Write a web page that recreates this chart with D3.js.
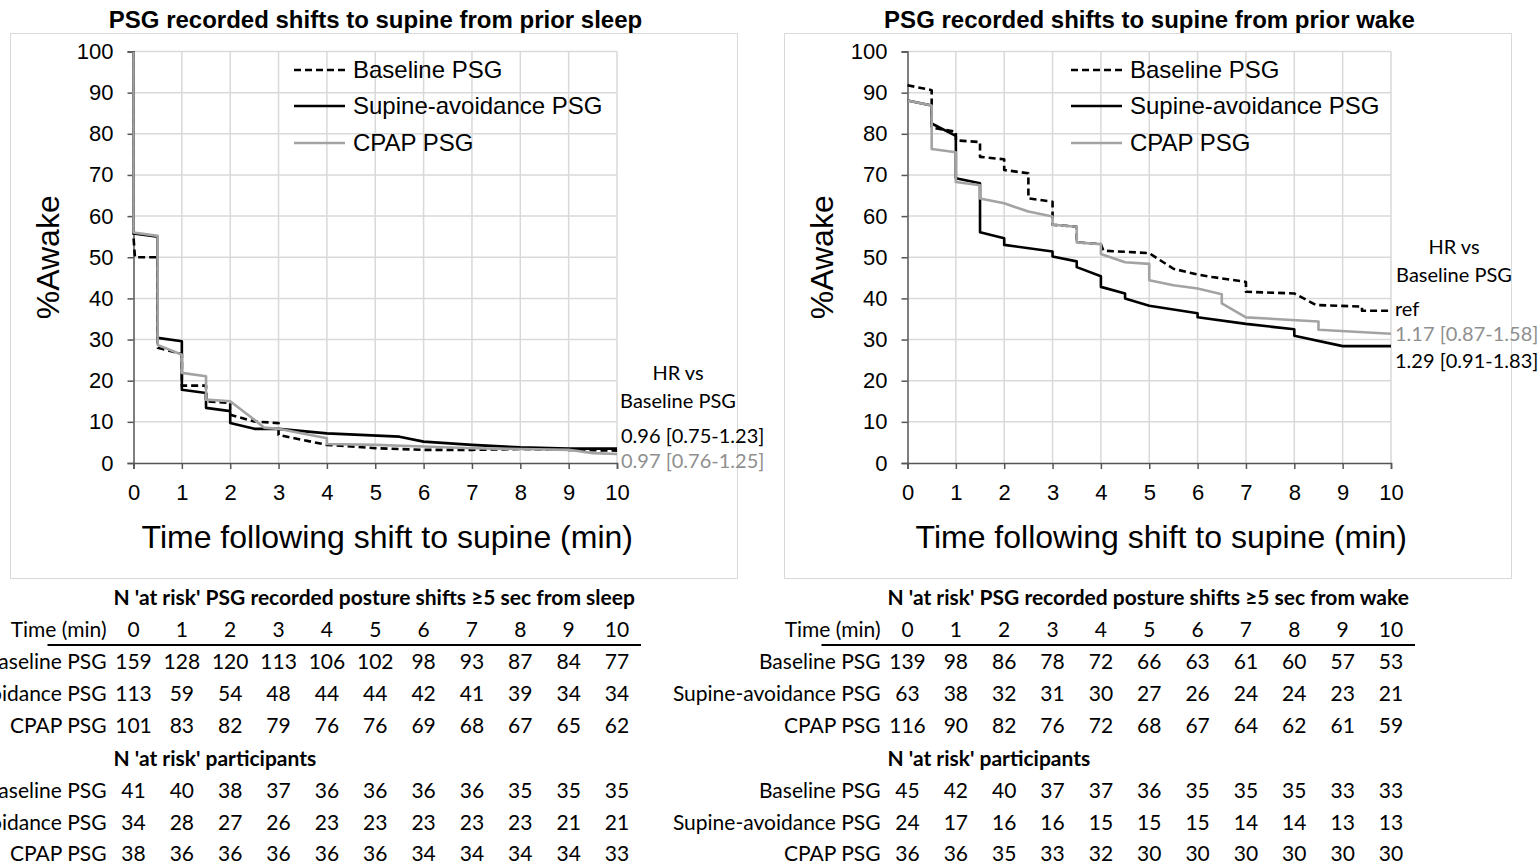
<!DOCTYPE html>
<html>
<head>
<meta charset="utf-8">
<script src="https://cdn.jsdelivr.net/npm/d3@7"></script>
<style>
  body { margin: 0; background: #fff; }
  svg { display: block; }
</style>
</head>
<body>
<div id="chart"></div>
<script>
// ---------- data ----------
const timeTicks = [0, 1, 2, 3, 4, 5, 6, 7, 8, 9, 10];
const yTicks = [0, 10, 20, 30, 40, 50, 60, 70, 80, 90, 100];
const seriesNames = ["Baseline PSG", "Supine-avoidance PSG", "CPAP PSG"];

// % awake after shift to supine from prior sleep ([min, %])
const sleepBaseline = [[0,100],[0,55],[0.03,50],[0.5,50],[0.5,28],[1,26.5],[1,18.8],[1.5,18.8],[1.5,15],[2,14.6],[2,11.7],[2.5,10.1],[3,9.7],[3,6.8],[4,4.4],[5,3.6],[6,3.2],[7,3.2],[8,3.4],[9,3.2],[10,3.0]];
const sleepSupine = [[0,100],[0,55.8],[0.5,55],[0.5,30.4],[1,29.6],[1,17.8],[1.5,17],[1.5,13.4],[2,12.6],[2,9.7],[2.5,8.3],[3,8.3],[4,7.2],[5.5,6.4],[6,5.2],[7,4.4],[8,3.8],[9,3.5],[10,3.5]];
const sleepCpap = [[0,100],[0,56],[0.5,55.2],[0.5,28.7],[1,26.3],[1,21.9],[1.5,21.1],[1.5,15.4],[2,15],[2.5,10.5],[2.7,8.6],[3,8.3],[4,6.0],[4,4.6],[5,4.4],[6,4.0],[7,3.6],[8,3.4],[9,3.2],[9.5,2.4],[10,2.2]];

// % awake after shift to supine from prior wake ([min, %])
const wakeBaseline = [[0,91.8],[0.5,90.6],[0.5,81.5],[1,80.5],[1,78.4],[1.5,78],[1.5,74.4],[2,73.8],[2,71.2],[2.5,70.4],[2.5,64.3],[3,63.5],[3,57.9],[3.5,57.4],[3.5,53.6],[4,53.2],[4.05,51.6],[5,51],[5.5,47.2],[6,45.8],[6.3,45.2],[7,44],[7,41.6],[8,41.2],[8.45,38.4],[9.4,38],[9.4,37],[10,37]];
const wakeSupine = [[0,88.1],[0.5,86.9],[0.5,82.5],[1,79.5],[1,69.2],[1.5,68],[1.5,56.1],[2,54.6],[2,53],[3,51.4],[3,50.2],[3.5,49],[3.5,47.6],[4,45.4],[4,42.8],[4.5,41.2],[4.5,40],[5,38.2],[6,36.4],[6,35.4],[7,33.8],[8,32.5],[8,30.9],[9,28.4],[10,28.4]];
const wakeCpap = [[0,88.1],[0.5,86.9],[0.5,76.3],[1,75.5],[1,68.3],[1.5,67.5],[1.5,64.3],[2,63.1],[2.5,61.1],[3,59.9],[3,57.9],[3.5,57.4],[3.5,53.6],[4,53.2],[4,50.8],[4.5,48.8],[5,48.4],[5,44.4],[5.5,43.2],[6,42.4],[6.5,41],[6.5,38.8],[7,35.4],[8.5,34.4],[8.5,32.4],[10,31.4]];

// hazard ratios vs baseline
const sleepHR = ["", "0.96 [0.75-1.23]", "0.97 [0.76-1.25]"];
const wakeHR = ["ref", "1.29 [0.91-1.83]", "1.17 [0.87-1.58]"];

// numbers at risk
const sleepShiftsBaseline = [159, 128, 120, 113, 106, 102, 98, 93, 87, 84, 77];
const sleepShiftsSupine = [113, 59, 54, 48, 44, 44, 42, 41, 39, 34, 34];
const sleepShiftsCpap = [101, 83, 82, 79, 76, 76, 69, 68, 67, 65, 62];
const sleepPartsBaseline = [41, 40, 38, 37, 36, 36, 36, 36, 35, 35, 35];
const sleepPartsSupine = [34, 28, 27, 26, 23, 23, 23, 23, 23, 21, 21];
const sleepPartsCpap = [38, 36, 36, 36, 36, 36, 34, 34, 34, 34, 33];
const wakeShiftsBaseline = [139, 98, 86, 78, 72, 66, 63, 61, 60, 57, 53];
const wakeShiftsSupine = [63, 38, 32, 31, 30, 27, 26, 24, 24, 23, 21];
const wakeShiftsCpap = [116, 90, 82, 76, 72, 68, 67, 64, 62, 61, 59];
const wakePartsBaseline = [45, 42, 40, 37, 37, 36, 35, 35, 35, 33, 33];
const wakePartsSupine = [24, 17, 16, 16, 15, 15, 15, 14, 14, 13, 13];
const wakePartsCpap = [36, 36, 35, 33, 32, 30, 30, 30, 30, 30, 30];

// ---------- drawing ----------
const W = 1540, H = 866;
const styles = [
  { stroke: "#000", dash: "7,4" },
  { stroke: "#000", dash: null },
  { stroke: "#a3a3a3", dash: null }
];
const hrColors = ["#000", "#000", "#8f8f8f"];
const tableFont = "Lato, 'Open Sans', sans-serif";

const svg = d3.select("#chart")
  .append("svg")
  .attr("width", W)
  .attr("height", H)
  .style("font-family", "'Liberation Sans', Arial, sans-serif");

function drawPanel({ left, legendDx, title, series, hr, hrLayout, shifts, parts, shiftsTitle }) {
  const top = 51.5, bottom = 463, right = left + 483.5;
  const x = d3.scaleLinear().domain([0, 10]).range([left, right]);
  const y = d3.scaleLinear().domain([0, 100]).range([bottom, top]);

  // frame around chart
  svg.append("rect")
    .attr("x", left - 123)
    .attr("y", 33.5)
    .attr("width", 727)
    .attr("height", 545)
    .attr("fill", "none")
    .attr("stroke", "#d9d9d9");

  svg.append("text")
    .attr("x", left + 242)
    .attr("y", 20)
    .attr("dy", "0.35em")
    .attr("text-anchor", "middle")
    .style("font-size", "24px")
    .style("font-weight", "bold")
    .text(title);

  // gridlines
  svg.append("g")
    .selectAll("line")
    .data(timeTicks.slice(1))
    .join("line")
    .attr("x1", d => x(d)).attr("x2", d => x(d))
    .attr("y1", top).attr("y2", bottom)
    .attr("stroke", "#d9d9d9").attr("stroke-width", 1.5);
  svg.append("g")
    .selectAll("line")
    .data(yTicks.slice(1))
    .join("line")
    .attr("x1", left).attr("x2", right)
    .attr("y1", d => y(d)).attr("y2", d => y(d))
    .attr("stroke", "#d9d9d9").attr("stroke-width", 1.5);

  // axes
  const xAxis = svg.append("g")
    .attr("transform", "translate(0," + bottom + ")")
    .call(d3.axisBottom(x).tickValues(timeTicks).tickSize(6).tickPadding(15).tickFormat(d3.format("d")));
  const yAxis = svg.append("g")
    .attr("transform", "translate(" + left + ",0)")
    .call(d3.axisLeft(y).tickValues(yTicks).tickSize(6).tickPadding(14));
  [xAxis, yAxis].forEach(a => {
    a.select(".domain").attr("stroke", "#555").attr("stroke-width", 1.5);
    a.selectAll(".tick line").attr("stroke", "#555").attr("stroke-width", 1.5);
    a.selectAll("text").style("font-size", "22px").style("font-family", "'Liberation Sans', Arial, sans-serif").attr("fill", "#000");
  });
  yAxis.selectAll("text").attr("dy", "0.32em");

  svg.append("text")
    .attr("x", (left + right) / 2 + 12)
    .attr("y", 537)
    .attr("dy", "0.35em")
    .attr("text-anchor", "middle")
    .style("font-size", "32px")
    .text("Time following shift to supine (min)");

  svg.append("text")
    .attr("transform", "translate(" + (left - 86) + "," + ((top + bottom) / 2) + ") rotate(-90)")
    .attr("dy", "0.35em")
    .attr("text-anchor", "middle")
    .style("font-size", "32px")
    .text("%Awake");

  // lines
  const line = d3.line().x(d => x(d[0])).y(d => y(d[1]));
  series.forEach((s, i) => {
    svg.append("path")
      .datum(s)
      .attr("fill", "none")
      .attr("stroke", styles[i].stroke)
      .attr("stroke-width", 2.6)
      .attr("stroke-dasharray", styles[i].dash)
      .attr("stroke-linejoin", "round")
      .attr("d", line);
  });

  // legend
  seriesNames.forEach((name, i) => {
    const ly = [70, 106, 143][i];
    svg.append("line")
      .attr("x1", left + legendDx).attr("x2", left + legendDx + 51)
      .attr("y1", ly).attr("y2", ly)
      .attr("stroke", styles[i].stroke)
      .attr("stroke-width", 2.6)
      .attr("stroke-dasharray", styles[i].dash);
    svg.append("text")
      .attr("x", left + legendDx + 59)
      .attr("y", ly)
      .attr("dy", "0.35em")
      .style("font-size", "24px")
      .text(name);
  });

  // hazard ratio annotation
  svg.append("text")
    .attr("x", hrLayout.cx).attr("y", hrLayout.head[0])
    .attr("dy", "0.35em").attr("text-anchor", "middle")
    .style("font-family", tableFont).style("font-size", "20px")
    .text("HR vs");
  svg.append("text")
    .attr("x", hrLayout.cx).attr("y", hrLayout.head[1])
    .attr("dy", "0.35em").attr("text-anchor", "middle")
    .style("font-family", tableFont).style("font-size", "20px")
    .text("Baseline PSG");
  hr.forEach((t, i) => {
    if (!t) return;
    svg.append("text")
      .attr("x", right + 4).attr("y", hrLayout.rows[i])
      .attr("dy", "0.35em")
      .attr("fill", hrColors[i])
      .style("font-family", tableFont).style("font-size", "20px")
      .text(t);
  });

  // at-risk tables
  const labelX = left - 27;
  const rowText = (txt, yy, bold, anchor, xx) => svg.append("text")
    .attr("x", xx).attr("y", yy).attr("dy", "0.35em")
    .attr("text-anchor", anchor)
    .style("font-family", tableFont).style("font-size", "21px")
    .style("font-weight", bold ? "bold" : "normal")
    .text(txt);

  rowText(shiftsTitle, 598, true, "start", left - 20);
  rowText("Time (min)", 630, false, "end", labelX);
  timeTicks.forEach(t => rowText(t, 630, false, "middle", x(t)));
  svg.append("line")
    .attr("x1", left - 86).attr("x2", right + 24)
    .attr("y1", 645).attr("y2", 645)
    .attr("stroke", "#000").attr("stroke-width", 2);

  const rowsY1 = [662, 694, 726];
  shifts.forEach((vals, i) => {
    rowText(seriesNames[i], rowsY1[i], false, "end", labelX);
    vals.forEach((v, j) => rowText(v, rowsY1[i], false, "middle", x(timeTicks[j])));
  });
  rowText("N 'at risk' participants", 759, true, "start", left - 20);
  const rowsY2 = [791, 823, 854];
  parts.forEach((vals, i) => {
    rowText(seriesNames[i], rowsY2[i], false, "end", labelX);
    vals.forEach((v, j) => rowText(v, rowsY2[i], false, "middle", x(timeTicks[j])));
  });
}

drawPanel({
  left: 133.5,
  legendDx: 160.5,
  title: "PSG recorded shifts to supine from prior sleep",
  series: [sleepBaseline, sleepSupine, sleepCpap],
  hr: sleepHR,
  hrLayout: { cx: 678, head: [373, 401], rows: [0, 436, 461] },
  shifts: [sleepShiftsBaseline, sleepShiftsSupine, sleepShiftsCpap],
  parts: [sleepPartsBaseline, sleepPartsSupine, sleepPartsCpap],
  shiftsTitle: "N 'at risk' PSG recorded posture shifts \u22655 sec from sleep"
});

drawPanel({
  left: 907.5,
  legendDx: 163.5,
  title: "PSG recorded shifts to supine from prior wake",
  series: [wakeBaseline, wakeSupine, wakeCpap],
  hr: wakeHR,
  hrLayout: { cx: 1454, head: [247, 275], rows: [309, 361, 334] },
  shifts: [wakeShiftsBaseline, wakeShiftsSupine, wakeShiftsCpap],
  parts: [wakePartsBaseline, wakePartsSupine, wakePartsCpap],
  shiftsTitle: "N 'at risk' PSG recorded posture shifts \u22655 sec from wake"
});
</script>
</body>
</html>
